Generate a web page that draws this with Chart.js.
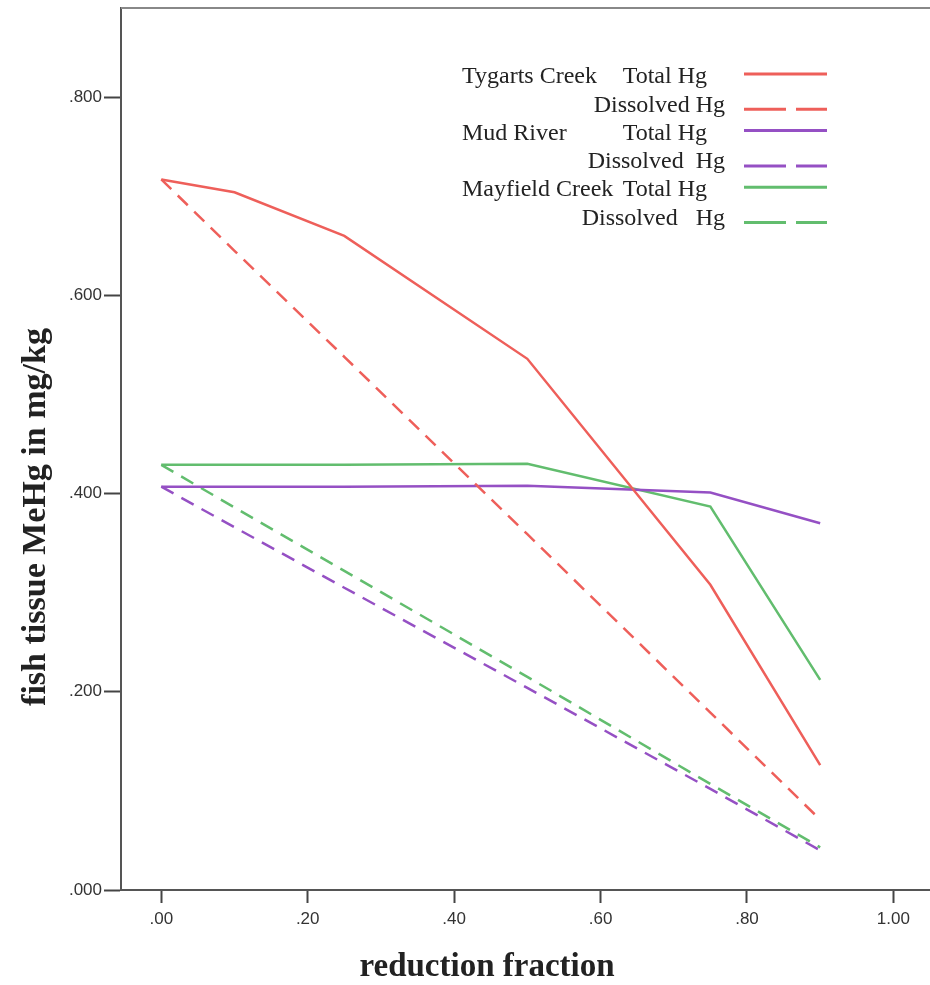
<!DOCTYPE html>
<html>
<head>
<meta charset="utf-8">
<script src="https://cdn.jsdelivr.net/npm/chart.js@4/dist/chart.umd.min.js"></script>
<style>
  html,body{margin:0;padding:0;background:#fff;}
  #wrap{width:930px;height:985px;position:relative;}
</style>
</head>
<body>
<div id="wrap"><canvas id="chart"></canvas></div>
<script>
// reduction fraction (x)
const fractions = [0, 0.1, 0.25, 0.5, 0.75, 0.9];

// fish tissue MeHg, mg/kg
const tygartsTotal     = [0.717, 0.704, 0.660, 0.536, 0.308, 0.126];
const tygartsDissolved = [0.717, 0.645, 0.538, 0.359, 0.179, 0.071];
const mudTotal         = [0.407, 0.407, 0.407, 0.408, 0.401, 0.370];
const mudDissolved     = [0.407, 0.366, 0.305, 0.204, 0.102, 0.040];
const mayTotal         = [0.429, 0.429, 0.429, 0.430, 0.387, 0.212];
const mayDissolved     = [0.429, 0.386, 0.322, 0.215, 0.107, 0.043];

const xTicks = [0, 0.2, 0.4, 0.6, 0.8, 1.0];
const yTicks = [0, 0.2, 0.4, 0.6, 0.8];

const siteNames = ["Tygarts Creek", "", "Mud River", "", "Mayfield Creek", ""];
const hgTypes = ["Total Hg", "Dissolved Hg", "Total Hg", "Dissolved  Hg", "Total Hg", "Dissolved   Hg"];

const red = "#ee5f5a", purple = "#9550c4", green = "#62bd6e";

function pts(ys){
  return fractions.map((x, i) => ({x: x, y: ys[i]}));
}
function line(label, ys, color, dashed){
  return {
    label: label,
    data: pts(ys),
    borderColor: color,
    backgroundColor: color,
    borderWidth: 2.5,
    borderDash: dashed ? [14, 9] : [],
    pointRadius: 0,
    tension: 0,
    fill: false
  };
}

// legend + axis titles drawn by hand, SPSS style
const legendPlugin = {
  id: "spssLegend",
  afterDraw(chart){
    const ctx = chart.ctx;
    ctx.save();
    ctx.font = "24px 'Liberation Serif'";
    ctx.fillStyle = "#222";
    ctx.textBaseline = "middle";
    chart.data.datasets.forEach((ds, i) => {
      let y = 77 + i * 28.3;
      if (siteNames[i]) {
        ctx.textAlign = "left";
        ctx.fillText(siteNames[i], 462, y);
      }
      ctx.textAlign = "right";
      ctx.fillText(hgTypes[i], i % 2 ? 725 : 707, y);
      ctx.strokeStyle = ds.borderColor;
      ctx.lineWidth = 3;
      ctx.setLineDash(i % 2 ? [42, 10] : []);
      let ly = i % 2 ? y + 4 : y - 3;
      ctx.beginPath();
      ctx.moveTo(744, ly);
      ctx.lineTo(827, ly);
      ctx.stroke();
    });
    ctx.setLineDash([]);

    // axis titles
    ctx.font = "bold 33px 'Liberation Serif'";
    ctx.textAlign = "center";
    ctx.fillText("reduction fraction", 487, 967);
    ctx.translate(36, 517);
    ctx.rotate(-Math.PI / 2);
    ctx.font = "bold 34px 'Liberation Serif'";
    ctx.fillText("fish tissue MeHg in mg/kg", 0, 0);
    ctx.setTransform(1, 0, 0, 1, 0, 0);

    // top frame line
    const a = chart.chartArea;
    ctx.strokeStyle = "#888";
    ctx.lineWidth = 2;
    ctx.beginPath();
    ctx.moveTo(a.left, a.top);
    ctx.lineTo(a.right, a.top);
    ctx.stroke();
    ctx.restore();
  }
};

function fmt(v, d){
  let s = Number(v).toFixed(d);
  return s.startsWith("0") ? s.slice(1) : s;
}

new Chart(document.getElementById("chart"), {
  type: "line",
  data: {
    datasets: [
      line("Tygarts Creek Total Hg", tygartsTotal, red, false),
      line("Tygarts Creek Dissolved Hg", tygartsDissolved, red, true),
      line("Mud River Total Hg", mudTotal, purple, false),
      line("Mud River Dissolved Hg", mudDissolved, purple, true),
      line("Mayfield Creek Total Hg", mayTotal, green, false),
      line("Mayfield Creek Dissolved Hg", mayDissolved, green, true)
    ]
  },
  options: {
    responsive: true,
    maintainAspectRatio: false,
    animation: false,
    layout: {padding: {top: 8, right: 0, left: 0, bottom: 0}},
    plugins: {legend: {display: false}, tooltip: {enabled: false}},
    scales: {
      x: {
        type: "linear",
        min: -0.055,
        max: 1.05,
        afterBuildTicks: s => { s.ticks = xTicks.map(v => ({value: v})); },
        afterFit: s => { s.height = 95; s.paddingLeft = 0; s.paddingRight = 0; },
        ticks: {
          callback: v => fmt(v, 2),
          color: "#333",
          font: {family: "'Liberation Sans'", size: 17},
          padding: 6,
          maxRotation: 0
        },
        grid: {drawOnChartArea: false, tickLength: 13, tickColor: "#444", tickWidth: 2},
        border: {color: "#555", width: 2}
      },
      y: {
        type: "linear",
        min: 0,
        max: 0.89,
        afterBuildTicks: s => { s.ticks = yTicks.map(v => ({value: v})); },
        afterFit: s => { s.width = 121; s.paddingTop = 0; s.paddingBottom = 0; },
        ticks: {
          callback: v => fmt(v, 3),
          color: "#333",
          font: {family: "'Liberation Sans'", size: 17},
          padding: 2
        },
        grid: {drawOnChartArea: false, tickLength: 17, tickColor: "#444", tickWidth: 2},
        border: {color: "#555", width: 2}
      }
    }
  },
  plugins: [legendPlugin]
});
</script>
</body>
</html>
